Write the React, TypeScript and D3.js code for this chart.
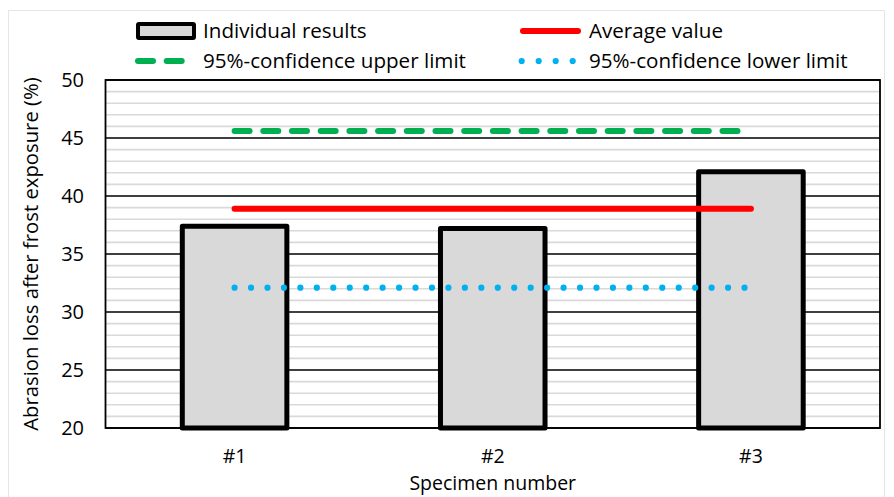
import React from "react";
import * as d3 from "d3";

const categories = ["#1", "#2", "#3"];
const individualResults = [37.4, 37.2, 42.1];
const averageValue = 38.9;
const upperLimit = 45.6;
const lowerLimit = 32.1;
const yTicks = [20, 25, 30, 35, 40, 45, 50];
const minorTicks = d3.range(20, 51, 1);

const W = 894;
const H = 497;
const M = { left: 105.5, right: 880, top: 80, bottom: 428 };
const FONT = "'Open Sans', 'Noto Sans', sans-serif";

export default function App() {
  const x = d3.scaleBand<string>().domain(categories).range([M.left, M.right]).paddingInner(0).paddingOuter(0);
  const y = d3.scaleLinear().domain([20, 50]).range([M.bottom, M.top]);
  const bw = x.bandwidth() * 0.405;
  const cx = (c: string) => (x(c) as number) + x.bandwidth() / 2;
  const x0 = cx(categories[0]);
  const x1 = cx(categories[categories.length - 1]);
  const hLine = d3.line<[number, number]>().x(d => d[0]).y(d => d[1]);

  return (
    <svg width={W} height={H} style={{ position: "absolute", left: 0, top: 0 }} fontFamily={FONT}>
      <rect x={0} y={0} width={W} height={H} fill="#fff" />
      <rect x={8.5} y={10.5} width={876} height={490} fill="none" stroke="#e6e6e6" strokeWidth={1} />
      {/* minor gridlines */}
      {minorTicks.filter(t => t % 5 !== 0).map(t => (
        <line key={"m" + t} x1={M.left} x2={M.right} y1={y(t)} y2={y(t)} stroke="#d9d9d9" strokeWidth={1.6} />
      ))}
      {yTicks.map(t => (
        <line key={"g" + t} x1={M.left} x2={M.right} y1={y(t)} y2={y(t)} stroke="#000" strokeWidth={1.5} />
      ))}
      <rect x={M.left} y={M.top} width={M.right - M.left} height={M.bottom - M.top} fill="none" stroke="#000" strokeWidth={1.8} />
      {/* bars */}
      {categories.map((c, i) => (
        <rect key={c} x={cx(c) - bw / 2} y={y(individualResults[i])} width={bw}
          height={y(20) - y(individualResults[i])} fill="#d9d9d9" stroke="#000" strokeWidth={5} strokeLinejoin="round" />
      ))}
      {/* lines */}
      <path d={hLine([[x0, y(upperLimit)], [x1, y(upperLimit)]]) as string} stroke="#00b050" strokeWidth={6}
        strokeDasharray="15 13.7" strokeLinecap="round" fill="none" />
      <path d={hLine([[x0, y(averageValue)], [x1, y(averageValue)]]) as string} stroke="#ff0000" strokeWidth={6}
        strokeLinecap="round" fill="none" />
      <path d={hLine([[x0, y(lowerLimit)], [x1, y(lowerLimit)]]) as string} stroke="#00b0f0" strokeWidth={6.2}
        strokeDasharray="0 16.45" strokeLinecap="round" fill="none" />
      {/* y tick labels */}
      {yTicks.map(t => (
        <text key={"t" + t} x={84} y={y(t)} dy="0.35em" textAnchor="end" fontSize={20} fill="#000">{t}</text>
      ))}
      {categories.map(c => (
        <text key={"c" + c} x={cx(c)} y={456} dy="0.35em" textAnchor="middle" fontSize={19.5} fill="#000">{c}</text>
      ))}
      <text x={cx(categories[1])} y={483} dy="0.35em" textAnchor="middle" fontSize={19.5} fill="#000">Specimen number</text>
      <text transform={`translate(31,${(M.top + M.bottom) / 2}) rotate(-90)`} textAnchor="middle" dy="0.35em" fontSize={20.3} fill="#000">
        Abrasion loss after frost exposure (%)
      </text>
      {/* legend */}
      <rect x={138} y={24} width={56} height={14} fill="#d9d9d9" stroke="#000" strokeWidth={4} rx={1} />
      <text x={203} y={31} dy="0.35em" fontSize={20.6} fill="#000">Individual results</text>
      <line x1={138} x2={183} y1={61} y2={61} stroke="#00b050" strokeWidth={6} strokeDasharray="15 13.7" strokeLinecap="round" />
      <text x={203} y={61} dy="0.35em" fontSize={20.6} fill="#000">95%-confidence upper limit</text>
      <line x1={523} x2={578} y1={31} y2={31} stroke="#ff0000" strokeWidth={6} strokeLinecap="round" />
      <text x={589} y={31} dy="0.35em" fontSize={20.6} fill="#000">Average value</text>
      <line x1={521.7} x2={578} y1={61} y2={61} stroke="#00b0f0" strokeWidth={6.2} strokeDasharray="0 17" strokeLinecap="round" />
      <text x={589} y={61} dy="0.35em" fontSize={20.6} fill="#000">95%-confidence lower limit</text>
    </svg>
  );
}
